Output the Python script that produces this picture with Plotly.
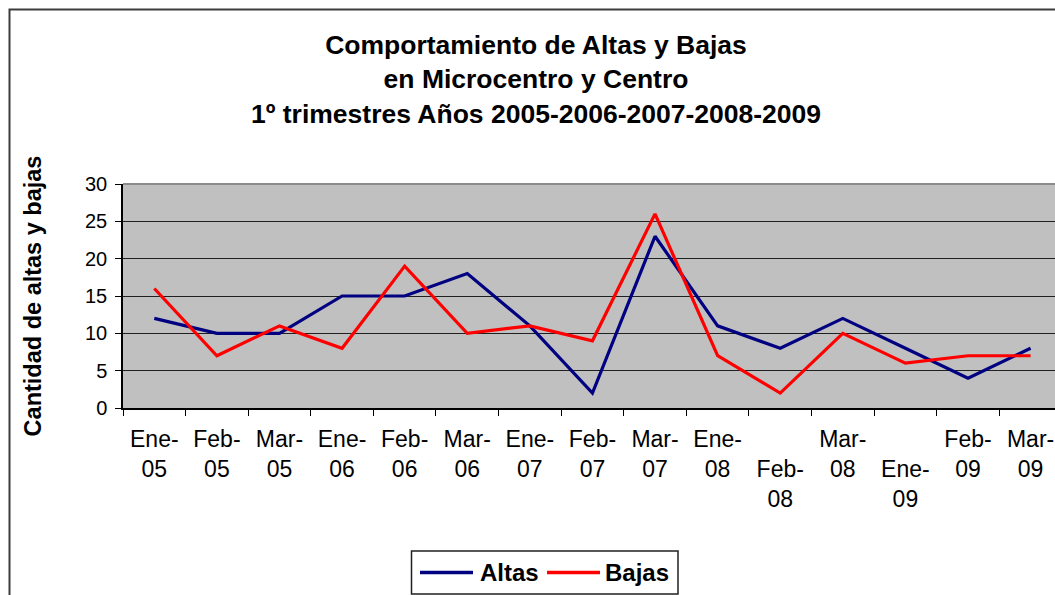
import plotly.graph_objects as go

categories = ["Ene-05", "Feb-05", "Mar-05", "Ene-06", "Feb-06", "Mar-06", "Ene-07", "Feb-07",
              "Mar-07", "Ene-08", "Feb-08", "Mar-08", "Ene-09", "Feb-09", "Mar-09"]
tick_labels = ["Ene-<br>05", "Feb-<br>05", "Mar-<br>05", "Ene-<br>06", "Feb-<br>06", "Mar-<br>06",
               "Ene-<br>07", "Feb-<br>07", "Mar-<br>07", "Ene-<br>08", "<br>Feb-<br>08", "Mar-<br>08",
               "<br>Ene-<br>09", "Feb-<br>09", "Mar-<br>09"]
altas = [12, 10, 10, 15, 15, 18, 11, 2, 23, 11, 8, 12, 8, 4, 8]
bajas = [16, 7, 11, 8, 19, 10, 11, 9, 26, 7, 2, 10, 6, 7, 7]
series_names = ["Altas", "Bajas"]
series_colors = ["#000080", "#FF0000"]

W, H = 1055, 595
ML, MR, MT, MB = 123, 0, 184, 187
PW, PH = W - ML - MR, H - MT - MB

def px(x):
    return (x - ML) / PW

def py(y):
    return (H - MB - y) / PH

FONT = "Liberation Sans, Arial, sans-serif"

fig = go.Figure()
for name, vals, col in zip(series_names, [altas, bajas], series_colors):
    fig.add_trace(go.Scatter(x=categories, y=vals, name=name, mode="lines",
                             line=dict(color=col, width=3.2), showlegend=False))

fig.update_layout(
    width=W, height=H,
    margin=dict(l=ML, r=MR, t=MT, b=MB, autoexpand=False),
    paper_bgcolor="white",
    plot_bgcolor="#C0C0C0",
    font=dict(family=FONT, color="black"),
    title=dict(
        text="<b>Comportamiento de Altas y Bajas<br>en Microcentro y Centro<br>1º trimestres Años 2005-2006-2007-2008-2009</b>",
        x=536 / W, xanchor="center", xref="container",
        y=1 - 54 / H, yanchor="top", yref="container",
        font=dict(size=26.5, family=FONT, color="black"),
    ),
    showlegend=False,
)

fig.update_xaxes(
    type="category",
    categoryorder="array", categoryarray=categories,
    range=[-0.5, 14.39],
    tickmode="array", tickvals=categories, ticktext=tick_labels,
    tickson="boundaries",
    ticks="outside", ticklen=6, tickcolor="black", tickwidth=1,
    showline=True, linecolor="black", linewidth=1.5,
    showgrid=False, zeroline=False,
    tickangle=0, automargin=False,
    ticklabelstandoff=10,
    tickfont=dict(size=23, family=FONT, color="black"),
    fixedrange=True,
)
fig.update_yaxes(
    range=[0, 30],
    tickmode="array", tickvals=[0, 5, 10, 15, 20, 25, 30],
    ticks="outside", ticklen=6, tickcolor="black", tickwidth=1,
    showline=True, linecolor="black", linewidth=1.5,
    showgrid=True, gridcolor="#202020", gridwidth=1,
    zeroline=False, automargin=False,
    tickfont=dict(size=20, family=FONT, color="black"),
    ticklabelstandoff=4,
    title=dict(text="<b>Cantidad de altas y bajas</b>", font=dict(size=23.5, family=FONT, color="black"),
               standoff=37),
    fixedrange=True,
)

# plot-area top edge (lighter gray)
fig.add_shape(type="line", xref="paper", yref="paper", x0=0, x1=1, y0=1, y1=1,
              line=dict(color="#8C8C8C", width=2), layer="above")
# outer chart frame
fig.add_shape(type="rect", xref="paper", yref="paper",
              x0=px(9.5), x1=px(1070), y0=py(9.5), y1=py(620),
              line=dict(color="#3C3C3C", width=2), fillcolor="rgba(0,0,0,0)", layer="below")

# legend box (drawn to match the original's long line samples)
fig.add_shape(type="rect", xref="paper", yref="paper",
              x0=px(411.5), x1=px(678), y0=py(551), y1=py(594),
              line=dict(color="#202020", width=1.5), fillcolor="white", layer="above")
leg_line_x = [(420, 473), (547, 600)]
leg_text_x = [478, 603]
leg_y = 572.5
for name, col, (lx0, lx1), tx in zip(series_names, series_colors, leg_line_x, leg_text_x):
    fig.add_shape(type="line", xref="paper", yref="paper",
                  x0=px(lx0), x1=px(lx1), y0=py(leg_y), y1=py(leg_y),
                  line=dict(color=col, width=3.5), layer="above")
    fig.add_annotation(xref="paper", yref="paper", x=px(tx), y=py(leg_y),
                       xanchor="left", yanchor="middle", showarrow=False,
                       text=f"<b>{name}</b>", font=dict(size=24, family=FONT, color="black"))

fig.write_html("out.html", config={"displayModeBar": False},
               post_script="document.body.style.margin='0';document.body.style.overflow='hidden';")
